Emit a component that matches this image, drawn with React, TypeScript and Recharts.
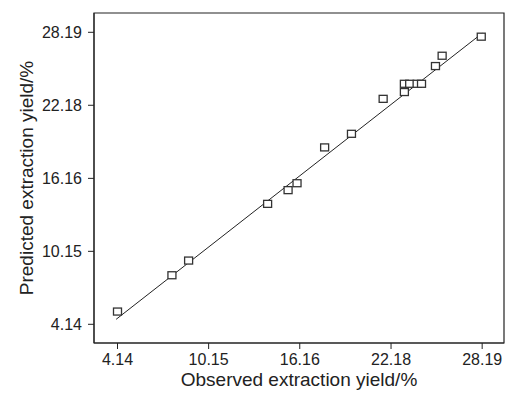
import {
  ReferenceArea,
  Scatter,
  ScatterChart,
  XAxis,
  YAxis,
  Label,
} from "recharts";

// observed vs predicted extraction yield (%)
const observed = [4.14, 7.73, 8.83, 14.04, 15.39, 15.98, 17.8, 19.57, 21.66, 23.06, 23.06, 23.41, 23.9, 24.19, 25.11, 25.55, 28.13];
const predicted = [5.19, 8.18, 9.39, 14.06, 15.19, 15.76, 18.71, 19.83, 22.71, 23.27, 23.95, 23.95, 23.95, 23.95, 25.41, 26.26, 27.83];

// fitted line end points
const fitX = [4.05, 28.19];
const fitY = [4.55, 28.11];

const ticks = [4.14, 10.15, 16.16, 22.18, 28.19];
const xDomain = [2.59, 29.63];
const yDomain = [2.6, 29.78];

const points = observed.map((x, i) => ({ x, y: predicted[i] }));
const fitLine = fitX.map((x, i) => ({ x, y: fitY[i] }));

const INK = "#222";
const FONT = "'Liberation Sans', Arial, sans-serif";

function OpenSquare(props: any) {
  const { cx, cy } = props;
  return (
    <rect x={cx - 4} y={cy - 3.5} width={8} height={7} fill="#fff" stroke="#333" strokeWidth={1.3} />
  );
}

function YTitle(props: any) {
  const { viewBox } = props;
  const cx = viewBox.x + 26;
  const cy = viewBox.y + viewBox.height / 2;
  return (
    <text
      x={cx}
      y={cy}
      transform={`rotate(-90, ${cx}, ${cy})`}
      textAnchor="middle"
      dominantBaseline="central"
      fontSize={19}
      fill={INK}
      fontFamily={FONT}
    >
      Predicted extraction yield/%
    </text>
  );
}

export default function App() {
  return (
    <div style={{ position: "absolute", left: 0, top: 0, background: "#fff", fontFamily: FONT }}>
      <ScatterChart width={505} height={393} margin={{ top: 13, right: 1, left: 0, bottom: 0 }}>
        <XAxis
          type="number"
          dataKey="x"
          domain={xDomain}
          ticks={ticks}
          allowDataOverflow
          height={50}
          tickSize={6}
          tickMargin={5}
          stroke={INK}
          tick={{ fontSize: 16, fill: INK }}
        >
          <Label
            value="Observed extraction yield/%"
            position="center"
            dy={11}
            style={{ fontSize: 19, fill: INK }}
          />
        </XAxis>
        <YAxis
          type="number"
          dataKey="y"
          domain={yDomain}
          ticks={ticks}
          allowDataOverflow
          width={94}
          tickSize={6}
          tickMargin={6}
          stroke={INK}
          tick={{ fontSize: 16, fill: INK }}
        >
          <Label content={YTitle} position="center" />
        </YAxis>
        <ReferenceArea
          x1={xDomain[0]}
          x2={xDomain[1]}
          y1={yDomain[0]}
          y2={yDomain[1]}
          fill="none"
          stroke={INK}
          strokeWidth={1.2}
        />
        <Scatter
          data={fitLine}
          line={{ stroke: INK, strokeWidth: 1 }}
          shape={() => <g />}
          isAnimationActive={false}
        />
        <Scatter data={points} shape={OpenSquare} isAnimationActive={false} />
      </ScatterChart>
    </div>
  );
}
